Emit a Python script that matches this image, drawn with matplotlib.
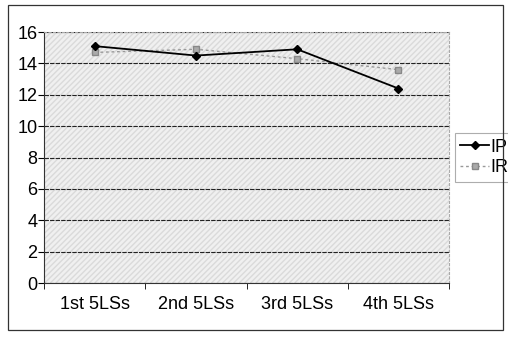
import numpy as np
import matplotlib.pyplot as plt
from matplotlib.patches import Rectangle

plt.rcParams["font.family"] = ["Liberation Sans", "DejaVu Sans"]

categories = ["1st 5LSs", "2nd 5LSs", "3rd 5LSs", "4th 5LSs"]
ip_values = [15.1, 14.5, 14.9, 12.4]
ir_values = [14.7, 14.9, 14.3, 13.6]

fig = plt.figure(figsize=(5.08, 3.37), dpi=100)
fig.patch.set_facecolor("white")

# outer chart border
fig.add_artist(Rectangle((0.016, 0.02), 0.975, 0.965, transform=fig.transFigure,
                         fill=False, edgecolor="#333333", linewidth=0.9))

ax = fig.add_axes([0.087, 0.160, 0.797, 0.745])
ax.set_facecolor("#f0f0f0")
ax.add_patch(Rectangle((0, 0), 1, 1, transform=ax.transAxes, facecolor="none",
                       edgecolor="#dadada", hatch="//////", linewidth=0, zorder=0))

x = np.arange(len(categories))

ax.plot(x, ip_values, color="black", linewidth=1.3, marker="D",
        markersize=4.5, label="IP", zorder=3)
ax.plot(x, ir_values, color="#999999", linewidth=1.0, linestyle=(0, (2, 2)),
        marker="s", markersize=4, markerfacecolor="#aaaaaa",
        markeredgecolor="#888888", label="IR", zorder=2)

ax.set_xlim(-0.5, 3.5)
ax.set_ylim(0, 16)
ax.set_yticks(range(0, 17, 2))
ax.set_xticks(x)
ax.set_xticklabels(categories)
ax.set_xticks(np.arange(-0.5, 4, 1), minor=True)
ax.tick_params(axis="x", which="major", length=0, pad=9, labelsize=13)
ax.tick_params(axis="x", which="minor", length=4, direction="out")
ax.tick_params(axis="y", length=4, direction="out", labelsize=13, pad=1)

ax.yaxis.grid(True, color="#222222", linestyle=(0, (4, 1)), linewidth=0.8)
ax.set_axisbelow(True)

for side in ["top", "right"]:
    ax.spines[side].set_color("#aaaaaa")
    ax.spines[side].set_linestyle((0, (2, 2)))
    ax.spines[side].set_linewidth(0.8)
for side in ["left", "bottom"]:
    ax.spines[side].set_color("#333333")
    ax.spines[side].set_linewidth(0.8)

leg = ax.legend(loc="center left", bbox_to_anchor=(1.005, 0.5), frameon=True,
                fontsize=13, handlelength=1.6, handletextpad=0.1,
                borderpad=0.3, labelspacing=0.2, fancybox=False,
                borderaxespad=0.2)
leg.get_frame().set_edgecolor("#999999")
leg.get_frame().set_linewidth(0.8)

plt.savefig("out.png", dpi=100)
plt.close()
